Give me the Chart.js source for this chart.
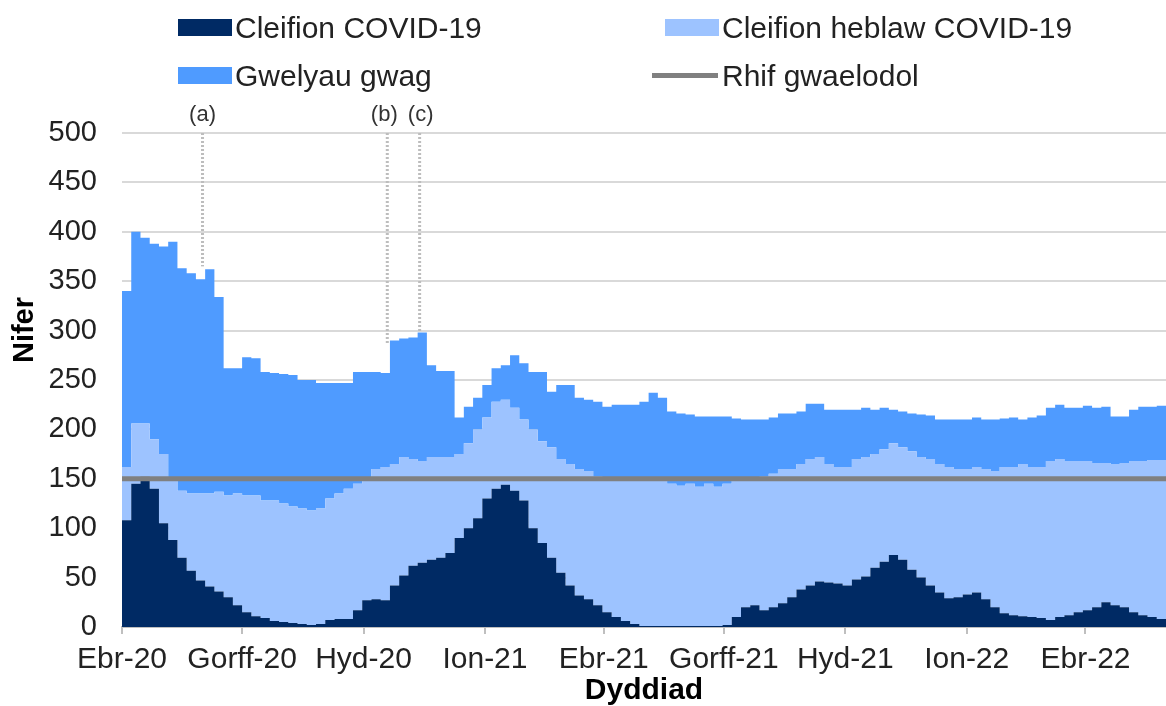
<!DOCTYPE html>
<html>
<head>
<meta charset="utf-8">
<script src="https://cdn.jsdelivr.net/npm/chart.js@4.4.1/dist/chart.umd.min.js"></script>
<style>
  body { margin: 0; background: #fff; }
  #wrap { position: relative; width: 1166px; height: 706px; overflow: hidden; font-family: "Liberation Sans", Arial, sans-serif; }
  #chart { position: absolute; left: 0; top: 0; }
  .box { position: absolute; width: 54px; height: 17px; }
  .txt { position: absolute; font-size: 30px; line-height: 30px; color: #222; white-space: nowrap; }
</style>
</head>
<body>
<div id="wrap">
  <canvas id="chart" width="1166" height="706"></canvas>
  <div class="box" style="left:178px;top:19px;background:#002a64"></div>
  <div class="txt" style="left:235px;top:13px">Cleifion COVID-19</div>
  <div class="box" style="left:665px;top:19px;background:#9dc3ff"></div>
  <div class="txt" style="left:722px;top:13px">Cleifion heblaw COVID-19</div>
  <div class="box" style="left:178px;top:67px;background:#4f9bff"></div>
  <div class="txt" style="left:235px;top:61px">Gwelyau gwag</div>
  <div class="box" style="left:652px;top:73px;width:66px;height:5px;background:#808080"></div>
  <div class="txt" style="left:722px;top:61px">Rhif gwaelodol</div>
</div>
<script>
// days since 1 Apr 2020, one value per week
const weekDays = [0,7,14,21,28,35,42,49,56,63,70,77,84,91,98,105,112,119,126,133,
  140,147,154,161,168,175,182,189,196,203,210,217,224,231,238,245,252,259,266,273,
  280,287,294,301,308,315,322,329,336,343,350,357,364,371,378,385,392,399,406,413,
  420,427,434,441,448,455,462,469,476,483,490,497,504,511,518,525,532,539,546,553,
  560,567,574,581,588,595,602,609,616,623,630,637,644,651,658,665,672,679,686,693,
  700,707,714,721,728,735,742,749,756,763,770,777,784];

const covid = [108,145,152,140,105,88,70,57,47,41,
  36,30,22,15,11,9,6,5,4,3,
  2,3,7,8,8,17,27,28,27,42,
  52,62,65,68,70,75,90,100,110,130,
  140,144,138,128,100,85,70,55,42,32,
  28,22,15,10,6,3,1,1,1,1,
  1,1,1,1,1,2,10,20,22,17,
  20,24,30,38,42,46,45,44,42,48,
  51,60,66,73,68,58,50,42,35,29,
  30,33,35,28,20,14,12,11,10,9,
  7,10,12,15,17,20,25,22,20,15,
  12,10,8];

const nonCovid = [54,61,54,50,70,62,68,78,88,94,
  101,103,113,118,122,119,122,120,118,117,
  116,117,123,127,132,128,123,132,135,123,
  120,108,103,104,102,97,85,86,90,82,
  88,86,84,82,100,103,112,115,123,128,
  130,130,135,140,142,145,149,149,149,144,
  142,144,141,144,141,143,138,130,128,135,
  135,136,130,127,128,126,120,118,120,122,
  121,115,114,113,114,120,122,128,130,133,
  130,127,127,132,138,148,150,154,152,153,
  161,160,156,153,151,146,141,143,146,153,
  156,159,161];

const emptyBeds = [178,194,188,198,210,240,225,223,217,227,
  197,129,127,140,139,130,129,131,133,130,
  132,127,117,112,107,113,108,98,95,125,
  120,123,130,93,87,87,37,37,32,33,
  34,35,53,57,58,70,56,75,80,72,
  72,76,73,75,77,77,78,87,82,73,
  73,70,71,68,71,68,63,60,60,58,
  57,56,56,53,56,54,55,58,58,50,
  50,45,42,34,36,38,43,44,45,48,
  50,50,50,50,52,49,50,45,50,52,
  54,55,54,54,56,56,57,48,47,52,
  55,54,55];

const baseline = 150;
const xMax = 791;

const tickDays = [0, 91, 183, 275, 365, 456, 548, 640, 730];
const tickLabels = ['Ebr-20', 'Gorff-20', 'Hyd-20', 'Ion-21', 'Ebr-21', 'Gorff-21', 'Hyd-21', 'Ion-22', 'Ebr-22'];

// annotation lines (a), (b), (c)
const markerDays = [61, 201, 225.5];
const markerTops = [365, 287, 299];
const markerLabels = ['(a)', '(b)', '(c)'];

function toPoints(values) {
  const pts = weekDays.map((d, i) => ({ x: d, y: values[i] }));
  pts.push({ x: xMax, y: values[values.length - 1] });  // close last step
  return pts;
}

function area(label, values, color, fill) {
  return {
    label: label,
    data: toPoints(values),
    backgroundColor: color,
    borderColor: 'rgba(0,0,0,0)',
    borderWidth: 0,
    pointRadius: 0,
    stepped: true,
    fill: fill,
    stack: 'beds'
  };
}

const datasets = [
  area('Cleifion COVID-19', covid, '#002a64', 'origin'),
  area('Cleifion heblaw COVID-19', nonCovid, '#9dc3ff', '-1'),
  area('Gwelyau gwag', emptyBeds, '#4f9bff', '-1'),
  {
    label: 'Rhif gwaelodol',
    data: [{ x: 0, y: baseline }, { x: xMax, y: baseline }],
    borderColor: '#808080',
    borderWidth: 5,
    pointRadius: 0,
    fill: false,
    stack: 'base',
    order: -2
  }
];

markerDays.forEach((d, i) => {
  datasets.push({
    label: markerLabels[i],
    data: [{ x: d, y: 500 }, { x: d, y: markerTops[i] }],
    borderColor: '#bdbdbd',
    borderWidth: 3,
    borderDash: [2, 2],
    pointRadius: 0,
    fill: false,
    stack: 'm' + i,
    order: -1
  });
});

const extraText = {
  id: 'extraText',
  afterDraw(chart) {
    const ctx = chart.ctx;
    const xs = chart.scales.x;
    ctx.save();
    ctx.fillStyle = '#333';
    ctx.font = '22px "Liberation Sans", Arial, sans-serif';
    ctx.textAlign = 'center';
    ctx.textBaseline = 'middle';
    markerLabels.forEach((t, i) => {
      let px = xs.getPixelForValue(markerDays[i]);
      if (i === 1) px -= 3;
      if (i === 2) px += 1;
      ctx.fillText(t, px, 115);
    });
    ctx.translate(25, 330);
    ctx.rotate(-Math.PI / 2);
    ctx.fillStyle = '#000';
    ctx.font = 'bold 29px "Liberation Sans", Arial, sans-serif';
    ctx.fillText('Nifer', 0, 0);
    ctx.restore();
  }
};

Chart.defaults.font.family = '"Liberation Sans", Arial, sans-serif';
Chart.defaults.color = '#222';

new Chart(document.getElementById('chart'), {
  type: 'line',
  data: { datasets: datasets },
  plugins: [extraText],
  options: {
    responsive: false,
    animation: false,
    layout: { padding: { top: 133, left: 0, right: 0, bottom: 0 } },
    plugins: {
      legend: { display: false },
      tooltip: { enabled: false }
    },
    scales: {
      x: {
        type: 'linear',
        min: 0,
        max: xMax,
        afterBuildTicks: (scale) => {
          scale.ticks = tickDays.map(v => ({ value: v }));
        },
        afterFit: (scale) => { scale.height = 79; },
        ticks: {
          autoSkip: false,
          maxRotation: 0,
          padding: 8,
          font: { size: 30 },
          color: '#222',
          callback: (v, i) => tickLabels[i]
        },
        grid: {
          drawOnChartArea: false,
          drawTicks: true,
          tickLength: 7,
          color: '#bfbfbf',
          lineWidth: 2
        },
        border: { display: true, color: '#bfbfbf', width: 2 },
        title: {
          display: true,
          text: 'Dyddiad',
          font: { size: 30, weight: 'bold', lineHeight: 1 },
          color: '#000',
          padding: { top: 0, bottom: 0 }
        }
      },
      y: {
        stacked: true,
        min: 0,
        max: 500,
        afterFit: (scale) => { scale.width = 122; },
        ticks: {
          stepSize: 50,
          padding: 25,
          font: { size: 29 },
          color: '#222'
        },
        grid: {
          color: '#d9d9d9',
          lineWidth: 2,
          drawTicks: false
        },
        border: { display: false }
      }
    }
  }
});
</script>
</body>
</html>
